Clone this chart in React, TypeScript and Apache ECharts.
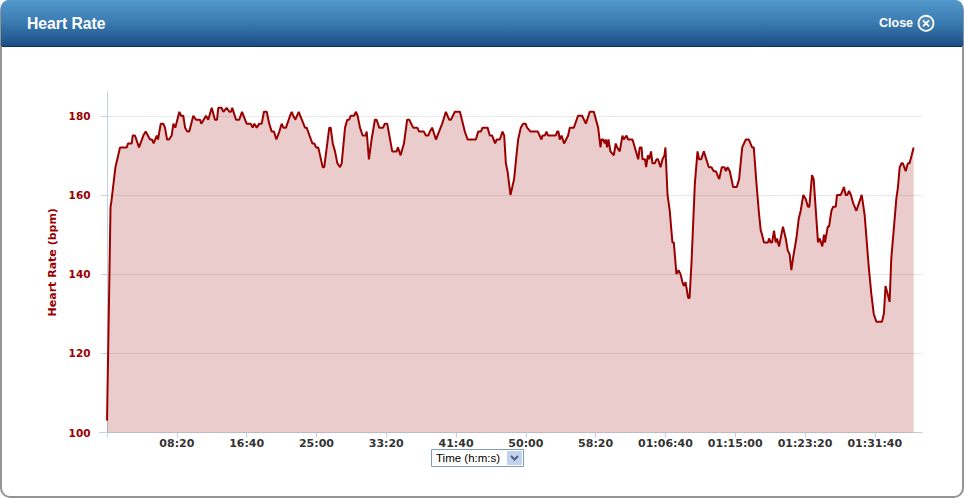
import React, { useEffect, useRef } from "react";
import * as echarts from "echarts";

const CHART_TITLE = "Heart Rate";
const CLOSE_LABEL = "Close";
const Y_AXIS_TITLE = "Heart Rate (bpm)";
const X_SELECT_LABEL = "Time (h:m:s)";
const Y_TICKS = [100, 120, 140, 160, 180];
const X_TICKS = [0, 500, 1000, 1500, 2000, 2500, 3000, 3500, 4000, 4500, 5000, 5500];
const X_LABELS = [500, 1000, 1500, 2000, 2500, 3000, 3500, 4000, 4500, 5000, 5500];

const seconds = [
  0, 25, 30, 60, 93, 141, 150, 177, 184, 200, 229, 260, 277, 308, 322, 334, 356, 365, 385, 403, 415, 430, 444, 463, 475, 489, 518, 530, 546, 559, 575, 589, 618, 637, 666, 675, 709, 725, 750, 773, 788, 797, 821, 833, 857, 876, 888, 897, 924, 947, 967, 1000, 1029, 1043, 1055, 1072, 1091, 1108, 1124, 1144, 1162, 1180, 1196, 1213, 1234, 1251, 1263, 1282, 1311, 1323, 1334, 1349, 1373, 1418, 1430, 1471, 1485, 1497, 1513, 1526,
  1545, 1556, 1592, 1602, 1617, 1633, 1650, 1669, 1681, 1705, 1721, 1735, 1745, 1769, 1783, 1795, 1812, 1831, 1853, 1860, 1876, 1895, 1919, 1931, 1950, 1978, 1990, 2007, 2043, 2074, 2084, 2103, 2127, 2150, 2165, 2193, 2222, 2236, 2270, 2284, 2301, 2313, 2329, 2356, 2401, 2427, 2451, 2463, 2492, 2528, 2563, 2583, 2642, 2659, 2678, 2690, 2726, 2742, 2759, 2780, 2792, 2814, 2833, 2845, 2857, 2869, 2890, 2916, 2933, 2945, 2964, 2981, 2998, 3009, 3034, 3086, 3112, 3120, 3136, 3148, 3160, 3215, 3224, 3234, 3243, 3256, 3274, 3303, 3315, 3344, 3374, 3403, 3430, 3458, 3487, 3518, 3535, 3542, 3554, 3566, 3573, 3582, 3592, 3606, 3630, 3644, 3654, 3673, 3692, 3702, 3721, 3733, 3764, 3781, 3805,
  3816, 3829, 3836, 3854, 3862, 3874, 3883, 3897, 3907, 3924, 3936, 3947, 3965, 3979, 3993, 4000, 4015, 4031, 4050, 4060, 4079, 4094, 4108, 4122, 4132, 4144, 4163, 4173, 4187, 4211, 4230, 4241, 4256, 4275, 4311, 4330, 4346, 4361, 4373, 4385, 4404, 4423, 4433, 4445, 4461, 4485, 4511, 4528, 4550, 4576, 4598, 4621, 4633, 4652, 4671, 4683, 4692, 4706, 4735, 4742, 4754, 4764, 4778, 4790, 4799, 4814, 4842, 4862, 4876, 4890, 4902, 4914, 4938, 4955, 4969, 4988, 5005, 5021, 5031, 5050, 5062, 5093, 5105, 5124, 5136, 5143, 5163, 5172, 5189, 5201, 5220, 5229, 5256, 5279, 5291, 5303, 5315, 5329, 5344, 5368, 5387, 5406, 5427, 5456, 5475, 5492, 5511, 5551, 5565, 5577, 5606, 5618, 5635, 5654, 5666, 5678, 5692, 5701, 5721, 5737, 5749, 5764, 5778,
];

const heartRate = [
  103, 157, 158, 167, 172, 172, 173, 173, 175, 175, 172, 175, 176, 174, 174, 173, 175, 174, 178, 178, 177, 174, 174, 175, 178, 177, 181, 180, 180, 177, 176, 176, 180, 179, 179, 178, 180, 179, 182, 179, 179, 182, 182, 181, 182, 181, 181, 182, 179, 179, 181, 178, 178, 177, 178, 177, 178, 178, 181, 181, 178, 176, 176, 174, 176, 178, 177, 177, 180, 181, 180, 179, 181, 177, 177, 173, 173, 172, 172, 170,
  167, 167, 177, 177, 173, 171, 168, 167, 168, 177, 179, 179, 180, 180, 181, 180, 177, 175, 175, 176, 169, 174, 179, 179, 177, 177, 178, 178, 171, 171, 172, 170, 173, 179, 179, 177, 177, 176, 176, 175, 175, 176, 177, 174, 178, 181, 179, 179, 181, 181, 176, 174, 174, 176, 176, 177, 177, 175, 175, 173, 174, 174, 176, 175, 168, 166, 160, 164, 170, 174, 177, 178, 178, 177, 176, 176, 174, 175, 175, 176, 175, 175, 176, 176, 174, 175, 173, 175, 177, 177, 180, 180, 178, 181, 181, 177, 172, 174, 174, 173, 174, 172, 174, 171, 170, 173, 172, 171, 175, 174, 175, 174, 174, 172, 169,
  172, 172, 169, 169, 167, 170, 169, 171, 168, 168, 169, 169, 167, 169, 170, 172, 160, 156, 148, 148, 140, 141, 140, 138, 137, 138, 134, 134, 143, 163, 171, 169, 169, 171, 167, 167, 166, 166, 165, 164, 167, 167, 166, 167, 166, 162, 162, 164, 172, 174, 174, 172, 172, 163, 155, 151, 150, 148, 148, 149, 148, 148, 151, 148, 149, 147, 152, 149, 146, 145, 141, 144, 149, 154, 156, 160, 159, 157, 157, 165, 164, 148, 149, 147, 150, 148, 152, 152, 156, 157, 157, 160, 160, 162, 160, 160, 161, 160, 158, 156, 158, 160, 155, 142, 135, 130, 128, 128, 130, 137, 133, 144, 151, 159, 162, 167, 168, 168, 166, 168, 168, 170, 172,
];

const hrSeries = seconds.map((t, i) => [t, heartRate[i]]);

const pad = (n: number) => String(n).padStart(2, "0");
const clock = (s: number) => {
  const h = Math.floor(s / 3600);
  const m = Math.floor((s % 3600) / 60);
  const sec = s % 60;
  return h > 0 ? `${pad(h)}:${pad(m)}:${pad(sec)}` : `${pad(m)}:${pad(sec)}`;
};

export default function App() {
  const ref = useRef<HTMLDivElement>(null);
  useEffect(() => {
    document.body.style.margin = "0";
    const chart = echarts.init(ref.current!, null, { renderer: "svg" });
    const sans = "Liberation Sans";
    const axisFont = "DejaVu Sans";
    chart.setOption({
      animation: false,
      backgroundColor: "#ffffff",
      grid: { left: 99.5, right: 42, top: 92, bottom: 65.5, containLabel: false },
      xAxis: {
        type: "value",
        min: -54,
        max: 5838,
        axisLine: { show: true, onZero: false, lineStyle: { color: "#C0D0E0", width: 1 } },
        axisTick: { show: true, length: 5, customValues: X_TICKS, lineStyle: { color: "#C0D0E0" } },
        axisLabel: {
          show: true,
          customValues: X_LABELS,
          formatter: (v: number) => clock(v),
          color: "#333333",
          fontFamily: axisFont,
          fontWeight: "bold",
          fontSize: 11,
          margin: 5,
        },
        splitLine: { show: false },
      },
      yAxis: {
        type: "value",
        min: 100,
        max: 186,
        interval: 20,
        name: Y_AXIS_TITLE,
        nameLocation: "middle",
        nameRotate: 90,
        nameGap: 40,
        nameTextStyle: { color: "#990000", fontFamily: axisFont, fontWeight: "bold", fontSize: 11 },
        axisLine: { show: true, lineStyle: { color: "#C0D0E0", width: 1 } },
        axisTick: { show: true, length: 5, customValues: Y_TICKS, lineStyle: { color: "#C0D0E0" } },
        axisLabel: {
          show: true,
          customValues: Y_TICKS,
          color: "#990000",
          fontFamily: axisFont,
          fontWeight: "bold",
          fontSize: 10.5,
          margin: 9,
        },
        splitLine: { show: true, showMinLine: false, showMaxLine: true, lineStyle: { color: "#E8E8E8", width: 1 } },
      },
      series: [
        {
          type: "line",
          data: hrSeries,
          showSymbol: false,
          symbol: "none",
          smooth: false,
          lineStyle: { color: "#990000", width: 2 },
          areaStyle: { color: "#990000", opacity: 0.2 },
          z: 3,
        },
      ],
      graphic: [
        {
          type: "rect",
          z: -10,
          silent: true,
          shape: { x: 1, y: 1, width: 962, height: 496, r: 9 },
          style: { fill: "#ffffff", stroke: "#959595", lineWidth: 2 },
        },
        {
          type: "rect",
          z: 10,
          silent: true,
          shape: { x: 1, y: 0, width: 962, height: 46, r: [8, 8, 0, 0] },
          style: {
            fill: new echarts.graphic.LinearGradient(0, 0, 0, 1, [
              { offset: 0, color: "#5299CC" },
              { offset: 0.5, color: "#3A7AB0" },
              { offset: 1, color: "#1A4E85" },
            ]),
          },
        },
        { type: "rect", z: 10, silent: true, shape: { x: 2, y: 46, width: 960, height: 1 }, style: { fill: "#0E2F57" } },
        {
          type: "text",
          z: 11,
          silent: true,
          x: 27,
          y: 23,
          style: { text: CHART_TITLE, fill: "#ffffff", fontFamily: sans, fontWeight: "bold", fontSize: 15.7, align: "left", verticalAlign: "middle" },
        },
        {
          type: "text",
          z: 11,
          silent: true,
          x: 879,
          y: 23,
          style: { text: CLOSE_LABEL, fill: "#ffffff", fontFamily: sans, fontWeight: "bold", fontSize: 12.5, align: "left", verticalAlign: "middle" },
        },
        { type: "circle", z: 11, silent: true, shape: { cx: 926, cy: 23.3, r: 7.5 }, style: { fill: "rgba(255,255,255,0.08)", stroke: "#ffffff", lineWidth: 1.8 } },
        { type: "line", z: 11, silent: true, shape: { x1: 923, y1: 20.3, x2: 929, y2: 26.3 }, style: { stroke: "#ffffff", lineWidth: 1.8 } },
        { type: "line", z: 11, silent: true, shape: { x1: 929, y1: 20.3, x2: 923, y2: 26.3 }, style: { stroke: "#ffffff", lineWidth: 1.8 } },
        { type: "rect", z: 11, silent: true, shape: { x: 431.5, y: 449.5, width: 92, height: 17 }, style: { fill: "#ffffff", stroke: "#7F9DB9", lineWidth: 1 } },
        {
          type: "text",
          z: 12,
          silent: true,
          x: 436,
          y: 458,
          style: { text: X_SELECT_LABEL, fill: "#000000", fontFamily: sans, fontSize: 11.5, align: "left", verticalAlign: "middle" },
        },
        { type: "rect", z: 12, silent: true, shape: { x: 507, y: 451, width: 15, height: 14, r: 1 }, style: { fill: "#C1D2EE" } },
        { type: "polyline", z: 13, silent: true, shape: { points: [[511, 456], [514.5, 459.5], [518, 456]] }, style: { fill: "none", stroke: "#4D6185", lineWidth: 2 } },
      ],
    });
    return () => chart.dispose();
  }, []);
  return <div ref={ref} style={{ position: "absolute", left: 0, top: 0, width: 964, height: 498, overflow: "hidden" }} />;
}
